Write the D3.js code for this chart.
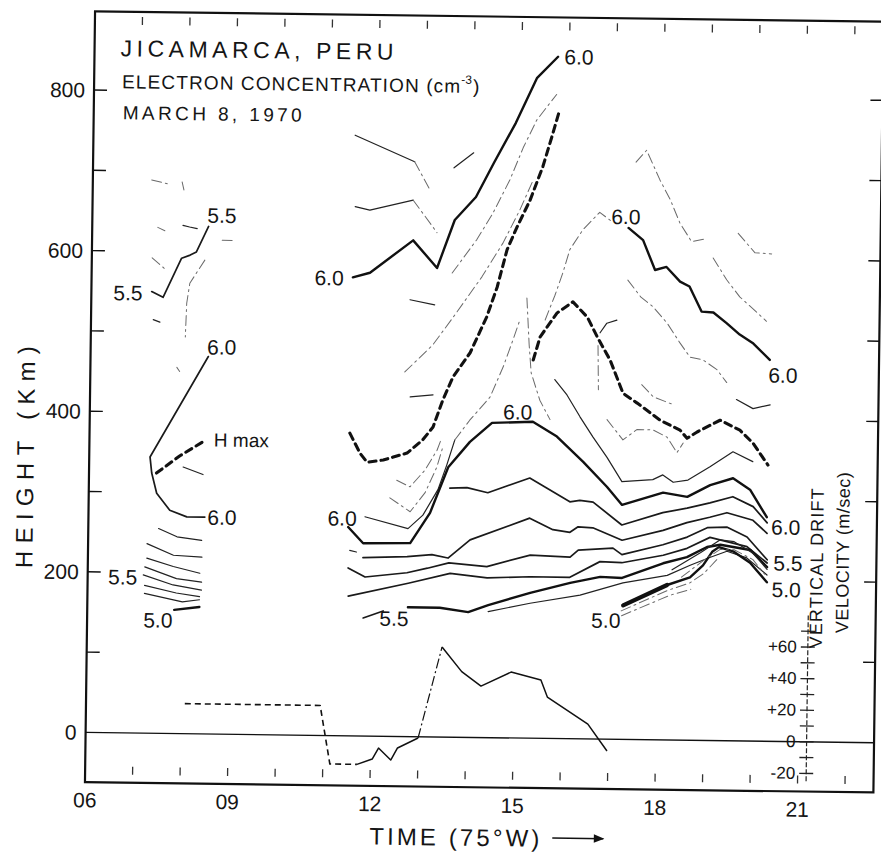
<!DOCTYPE html>
<html lang="en">
<head>
<meta charset="UTF-8">
<title>Jicamarca, Peru - electron concentration, March 8, 1970</title>
<script src="https://d3js.org/d3.v7.min.js"></script>
<style>
  body { margin: 0; background: #fff; }
  svg { display: block; background: #fff; }
  text { font-family: 'Liberation Sans', 'DejaVu Sans', sans-serif; fill: #151515; }
</style>
</head>
<body>
<svg id="chart" width="881" height="852"></svg>
<script>
// axes
const timeTicks = [6, 9, 12, 15, 18, 21];
const timeTickLabels = ["06", "09", "12", "15", "18", "21"];
const hourTicks = [7, 8, 9, 10, 11, 12, 13, 14, 15, 16, 17, 18, 19, 20, 21, 22];
const heightTicks = [0, 200, 400, 600, 800];
const heightMinorTicks = [100, 200, 300, 400, 500, 600, 700, 800];
const velTicks = [-20, 0, 20, 40, 60];
const velTickLabels = ["-20", "0", "+20", "+40", "+60"];
const velMinorTicks = [-20, -10, 0, 10, 20, 30, 40, 50, 60, 70];

// contours, [time (h, 75°W), height (km)] -- morning group
const am55Upper = [[7.27, 550], [7.51, 543], [7.89, 592], [8.07, 596], [8.2, 600], [8.45, 632]];
const am60 = [[8.48, 470], [7.28, 344], [7.32, 324], [7.43, 299], [7.71, 278], [8.07, 270], [8.45, 270]];
const amHmax = [[7.42, 324], [7.91, 346], [8.45, 366]];
const amCurl = [[7.98, 332], [8.4, 323]];
const amLow1 = [[7.48, 255], [7.87, 245], [8.39, 241]];
const amLow2 = [[7.24, 236], [7.8, 222], [8.4, 220]];
const amLow3 = [[7.24, 218], [7.8, 208], [8.36, 200]];
const amLow4 = [[7.2, 207], [7.87, 193], [8.4, 189]];
const amLow5 = [[7.17, 197], [7.8, 185], [8.4, 179]];
const amLow6 = [[7.2, 184], [7.87, 175], [8.36, 171]];
const amLow7 = [[7.2, 174], [8.0, 164], [8.36, 167]];
const am50 = [[7.83, 154], [8.36, 158]];
const amFrag1 = [[7.24, 689], [7.61, 684]];
const amFrag2 = [[7.88, 687], [7.92, 677]];
const amFrag3 = [[7.91, 633], [8.05, 631], [8.21, 629]];
const amFrag4 = [[7.38, 630], [7.53, 626]];
const amFrag5 = [[7.27, 592], [7.55, 578]];
const amFrag6 = [[8.38, 590], [8.07, 561], [8.01, 536], [7.99, 494]];
const amFrag7 = [[7.31, 515], [7.45, 512]];
const amFrag8 = [[8.74, 615], [8.95, 615]];
const amFrag9 = [[7.82, 456], [7.88, 451]];

// afternoon group
const pm60Upper = [[11.5, 571], [11.86, 577], [12.76, 618], [13.27, 584], [13.63, 644], [14.07, 673],
  [14.44, 716], [14.89, 766], [15.32, 822], [15.76, 849]];
const pmTop1 = [[11.51, 748], [12.77, 716]];
const pmTop1Link = [[12.77, 716], [13.1, 681]];
const pmTop1End = [[13.6, 709], [14.01, 728]];
const pmTop2 = [[11.53, 659], [11.84, 655], [12.75, 668]];
const pmTop2Link = [[12.75, 668], [13.26, 628]];
const pmFaintA = [[13.59, 578], [14.1, 620], [14.43, 653], [14.78, 695], [15.05, 735], [15.33, 770], [15.74, 802]];
const pmFaintB = [[12.62, 454], [13.2, 488], [13.66, 526], [14.22, 574], [14.65, 616], [15.0, 658], [15.27, 695]];
const pmFaintC = [[15.17, 548], [15.23, 490], [15.28, 455], [15.47, 421], [15.69, 397]];
const pmHmax = [[11.48, 377], [11.7, 352], [11.85, 341], [12.19, 344], [12.69, 353], [13.02, 370], [13.23, 386],
  [13.43, 420], [13.64, 449], [13.99, 479], [14.33, 524], [14.54, 561], [14.74, 608], [14.94, 636],
  [15.21, 670], [15.47, 712], [15.65, 749], [15.79, 779]];
const pmHmax2 = [[15.32, 471], [15.46, 500], [15.81, 530], [16.14, 544], [16.45, 525], [16.66, 501],
  [16.94, 472], [17.22, 431], [17.52, 419], [18.01, 398], [18.43, 386], [18.58, 376], [18.79, 384],
  [19.27, 399], [19.69, 387], [19.97, 371], [20.29, 344]];
const pmFan1 = [[11.82, 273], [12.73, 259], [13.04, 276], [13.35, 308], [13.53, 339], [13.69, 370]];
const pmFan1Up = [[13.69, 370], [14.0, 395], [14.42, 424], [14.69, 462], [14.89, 496], [15.03, 521]];
const pmFan2 = [[12.48, 319], [12.76, 311], [13.07, 332], [13.32, 357], [13.4, 370]];
const pmFan3 = [[12.34, 297], [12.77, 280], [13.08, 304], [13.32, 336], [13.44, 361]];
const pmShort1 = [[12.74, 423], [13.22, 426]];
const pmShort2 = [[12.71, 544], [13.23, 538]];
const pm60Right = [[17.29, 637], [17.6, 622], [17.86, 585], [18.1, 589], [18.39, 571], [18.59, 565],
  [18.85, 534], [19.1, 533], [19.38, 520], [19.66, 506], [19.95, 495], [20.3, 475]];
const pmPeak = [[17.43, 719], [17.65, 734], [17.94, 697], [18.16, 673], [18.37, 644], [18.62, 621], [18.87, 624]];
const pmR3 = [[19.6, 632], [19.96, 608], [20.31, 607]];
const pmR4 = [[19.08, 601], [19.37, 574], [19.65, 553], [20.22, 523]];
const pmR5a = [[15.56, 521], [15.76, 552], [15.92, 580], [16.06, 609], [16.33, 634], [16.68, 656], [16.95, 644]];
const pmR5b = [[17.29, 572], [17.57, 551], [17.83, 539], [18.13, 519], [18.4, 495], [18.62, 477],
  [18.89, 474], [19.19, 462], [19.4, 446]];
const pmR6 = [[19.61, 425], [19.96, 414], [20.32, 419]];
const pmR7 = [[17.61, 442], [17.86, 427], [18.31, 417]];
const pmCurl = [[16.72, 506], [16.86, 518], [17.07, 522]];
const pmR9 = [[16.68, 490], [16.7, 435]];
const pmR10 = [[16.89, 398], [17.23, 373], [17.52, 386], [17.86, 386], [18.16, 377], [18.37, 358], [18.5, 370]];
const pmR11 = [[15.78, 447], [16.04, 428], [16.32, 401], [16.6, 376], [16.9, 351], [17.22, 321], [17.87, 324],
  [18.08, 330], [18.3, 321], [18.61, 324], [19.07, 341], [19.55, 360], [19.97, 348]];
const pm60Lower = [[11.47, 260], [11.79, 240], [12.78, 241], [13.19, 279], [13.56, 336], [14.01, 368],
  [14.47, 392], [15.33, 394], [15.84, 376], [16.4, 345], [16.91, 314], [17.23, 292], [18.09, 308],
  [18.6, 303], [19.08, 318], [19.56, 327], [19.92, 313], [20.28, 279]];
const pmB1 = [[13.6, 310], [13.96, 311], [14.4, 305], [15.28, 324], [16.13, 295], [16.34, 297], [16.62, 295],
  [17.23, 267], [18.09, 283], [18.6, 289], [19.08, 296], [19.56, 304], [19.99, 292], [20.29, 272]];
const pmB2Dash = [[11.51, 231], [11.65, 229]];
const pmB2 = [[11.79, 222], [12.72, 224], [13.24, 227], [13.58, 223], [14.04, 246], [15.29, 274], [15.78, 260],
  [16.14, 257], [16.31, 264], [16.62, 263], [17.24, 248], [18.1, 261], [18.6, 271], [19.08, 278],
  [19.44, 284], [19.99, 275], [20.29, 259]];
const pmB3 = [[11.48, 209], [11.84, 198], [12.72, 204], [13.15, 210], [13.6, 217], [14.4, 213], [15.31, 228],
  [16.15, 226], [16.32, 235], [17.05, 238], [17.24, 230], [18.1, 243], [18.61, 253], [19.03, 265],
  [19.45, 266], [19.87, 254], [20.3, 226]];
const pmB4 = [[11.49, 174], [12.75, 191], [13.63, 204], [14.41, 199], [15.31, 201], [16.15, 201], [16.78, 221],
  [17.24, 220], [18.11, 230], [18.61, 239], [19.09, 253], [19.87, 242], [20.3, 222]];
const pm55Slash = [[11.81, 147], [12.23, 156]];
const pm55 = [[12.75, 161], [13.42, 161], [14.02, 156], [14.44, 165], [15.32, 181], [16.16, 194], [16.79, 202],
  [17.25, 201], [18.11, 220], [18.61, 228], [19.03, 241], [19.31, 244], [19.94, 238], [20.3, 217]];
const pmB6 = [[14.44, 157], [15.32, 168], [16.37, 179], [17.27, 195], [18.2, 205], [18.68, 218], [19.09, 228],
  [19.45, 236], [19.87, 228], [20.3, 207]];
const pm50 = [[17.28, 167], [18.2, 193], [18.68, 203], [18.95, 218], [19.14, 235], [19.28, 241], [19.58, 236],
  [19.94, 222], [20.3, 198]];
const pm50Bold = [[17.28, 167], [18.2, 193]];
const pm50Thin1 = [[17.24, 160], [18.2, 186], [18.68, 196], [18.97, 208], [19.25, 226]];
const pm50Thin2 = [[17.25, 154], [18.25, 180], [18.7, 188]];
const pmHatch1 = [[18.3, 212], [18.9, 234], [19.3, 250], [19.6, 248], [20.0, 234], [20.3, 214]];
const pmHatch2 = [[18.5, 203], [19.0, 226], [19.3, 238], [19.6, 238], [20.0, 226], [20.25, 208]];

// vertical drift velocity, [time, m/sec]
const velDashed = [[8.08, 19], [10.93, 19], [11.15, -18], [11.72, -18]];
const velSolid1 = [[11.72, -18], [12.04, -14.5], [12.17, -7.5], [12.43, -15], [12.57, -7.3], [13.0, -0.8]];
const velRise = [[13.0, -0.8], [13.48, 57]];
const velSolid2 = [[13.48, 57], [13.9, 41.6], [14.31, 32.6], [14.94, 41.7], [15.57, 36.9], [15.71, 26.2],
  [16.57, 9.4], [16.98, -7.5]];

// contour labels: [text, time, height]
const contourLabels = [
  ["5.5", 8.73, 646], ["5.5", 6.77, 548], ["6.0", 8.76, 482], ["6.0", 8.81, 270], ["5.5", 6.74, 194],
  ["5.0", 7.49, 141], ["6.0", 11.0, 570], ["6.0", 16.2, 849], ["6.0", 15.01, 406], ["6.0", 11.34, 271],
  ["5.5", 12.46, 147], ["5.0", 16.92, 148], ["6.0", 17.23, 651], ["6.0", 20.58, 456], ["6.0", 20.68, 267],
  ["5.5", 20.74, 222], ["5.0", 20.71, 189]
];
const hmaxLabel = ["H max", 8.62, 366];

const styles = {
  thick:  { w: 2.4, dash: null, color: "#111" },
  medium: { w: 1.7, dash: null, color: "#1a1a1a" },
  thin:   { w: 1.2, dash: null, color: "#222" },
  faint:  { w: 1.0, dash: "10,4,2,4", color: "#6a6a6a" },
  hmax:   { w: 3.1, dash: "7,5", color: "#111" },
  bold:   { w: 4.2, dash: null, color: "#111" }
};

const contours = [
  [am55Upper, "medium"], [am60, "medium"], [amHmax, "hmax"], [amCurl, "thin"],
  [amLow1, "thin"], [amLow2, "thin"], [amLow3, "thin"], [amLow4, "thin"], [amLow5, "thin"],
  [amLow6, "thin"], [amLow7, "thin"], [am50, "thick"],
  [amFrag1, "faint"], [amFrag2, "faint"], [amFrag3, "thin"], [amFrag4, "faint"], [amFrag5, "faint"],
  [amFrag6, "faint"], [amFrag7, "thin"], [amFrag8, "faint"], [amFrag9, "faint"],
  [pm60Upper, "thick"], [pmTop1, "thin"], [pmTop1Link, "faint"], [pmTop1End, "thin"],
  [pmTop2, "thin"], [pmTop2Link, "faint"], [pmFaintA, "faint"], [pmFaintB, "faint"], [pmFaintC, "faint"],
  [pmHmax, "hmax"], [pmHmax2, "hmax"],
  [pmFan1, "thin"], [pmFan1Up, "faint"], [pmFan2, "faint"], [pmFan3, "faint"],
  [pmShort1, "thin"], [pmShort2, "thin"],
  [pm60Right, "thick"], [pmPeak, "faint"], [pmR3, "faint"], [pmR4, "faint"], [pmR5a, "faint"],
  [pmR5b, "faint"], [pmR6, "thin"], [pmR7, "faint"], [pmCurl, "thin"], [pmR9, "faint"],
  [pmR10, "faint"], [pmR11, "thin"],
  [pm60Lower, "thick"], [pmB1, "medium"], [pmB2Dash, "thin"], [pmB2, "medium"], [pmB3, "medium"],
  [pmB4, "medium"], [pm55Slash, "medium"], [pm55, "thick"], [pmB6, "thin"], [pm50, "thick"],
  [pm50Bold, "bold"], [pm50Thin1, "faint"], [pm50Thin2, "faint"], [pmHatch1, "thin"], [pmHatch2, "faint"]
];

const svg = d3.select("#chart");
// the original scan sits slightly skewed on the page
const g = svg.append("g").attr("transform", "rotate(0.75,480,400)");

const x = d3.scaleLinear().domain([6, 22.6]).range([90, 878.5]);
const y = d3.scaleLinear().domain([-62, 898]).range([787.3, 16.4]);
const vy = d3.scaleLinear().domain([0, 60]).range([y(0), y(118)]);
const velAxisTime = 21.18;

const frameLeft = x(6), frameRight = x(22.6), frameTop = y(898), frameBottom = y(-62);

// frame
g.append("rect")
  .attr("x", frameLeft).attr("y", frameTop)
  .attr("width", frameRight - frameLeft).attr("height", frameBottom - frameTop)
  .attr("fill", "none").attr("stroke", "#111").attr("stroke-width", 2.2);

// zero line
g.append("line")
  .attr("x1", frameLeft).attr("x2", frameRight)
  .attr("y1", y(0)).attr("y2", y(0))
  .attr("stroke", "#111").attr("stroke-width", 1.4);

// hour ticks inside top and bottom edges
g.selectAll(".ttop").data(hourTicks).enter().append("line")
  .attr("x1", d => x(d)).attr("x2", d => x(d))
  .attr("y1", frameTop + 5).attr("y2", frameTop + 13)
  .attr("stroke", "#333").attr("stroke-width", 1.3);
g.selectAll(".tbot").data(hourTicks).enter().append("line")
  .attr("x1", d => x(d)).attr("x2", d => x(d))
  .attr("y1", frameBottom - 16).attr("y2", frameBottom - 8)
  .attr("stroke", "#333").attr("stroke-width", 1.3);

// height ticks on both sides
g.selectAll(".hl").data(heightMinorTicks).enter().append("line")
  .attr("x1", frameLeft).attr("x2", frameLeft + 13)
  .attr("y1", d => y(d)).attr("y2", d => y(d))
  .attr("stroke", "#111").attr("stroke-width", 1.4);
g.selectAll(".hr").data(heightMinorTicks).enter().append("line")
  .attr("x1", frameRight - 12).attr("x2", frameRight)
  .attr("y1", d => y(d)).attr("y2", d => y(d))
  .attr("stroke", "#111").attr("stroke-width", 1.4);

g.selectAll(".hlab").data(heightTicks).enter().append("text")
  .attr("x", frameLeft - 9).attr("y", d => y(d))
  .attr("text-anchor", "end").attr("dominant-baseline", "central")
  .style("font-size", "21px")
  .text(d => d);

g.selectAll(".tlab").data(timeTicks).enter().append("text")
  .attr("x", d => x(d)).attr("y", 805)
  .attr("text-anchor", "middle").attr("dominant-baseline", "central")
  .style("font-size", "21px")
  .text((d, i) => timeTickLabels[i]);

// contour lines
const line = d3.line().x(d => x(d[0])).y(d => y(d[1]));
contours.forEach(([pts, key]) => {
  const s = styles[key];
  g.append("path")
    .attr("d", line(pts))
    .attr("fill", "none")
    .attr("stroke", s.color)
    .attr("stroke-width", s.w)
    .attr("stroke-dasharray", s.dash)
    .attr("stroke-linejoin", "round")
    .attr("stroke-linecap", "round");
});

g.selectAll(".clab").data(contourLabels).enter().append("text")
  .attr("x", d => x(d[1])).attr("y", d => y(d[2]))
  .attr("text-anchor", "middle").attr("dominant-baseline", "central")
  .style("font-size", "21px")
  .text(d => d[0]);

g.append("text")
  .attr("x", x(hmaxLabel[1])).attr("y", y(hmaxLabel[2]))
  .attr("dominant-baseline", "central")
  .style("font-size", "19px")
  .text(hmaxLabel[0]);

// drift velocity
const vline = d3.line().x(d => x(d[0])).y(d => vy(d[1]));
[[velDashed, "6,4", 1.6], [velSolid1, null, 1.5], [velRise, "10,3,2,3", 1.2], [velSolid2, null, 1.5]]
  .forEach(([pts, dash, w]) => {
    g.append("path")
      .attr("d", vline(pts))
      .attr("fill", "none")
      .attr("stroke", "#111")
      .attr("stroke-width", w)
      .attr("stroke-dasharray", dash)
      .attr("stroke-linejoin", "round");
  });

// velocity axis
const vx = x(velAxisTime);
g.append("line")
  .attr("x1", vx).attr("x2", vx)
  .attr("y1", vy(-25)).attr("y2", vy(80))
  .attr("stroke", "#222").attr("stroke-width", 1.2)
  .attr("stroke-dasharray", "5,2");
g.selectAll(".vt").data(velMinorTicks).enter().append("line")
  .attr("x1", vx - 7).attr("x2", vx + 7)
  .attr("y1", d => vy(d)).attr("y2", d => vy(d))
  .attr("stroke", "#222").attr("stroke-width", 1.3);
g.selectAll(".vlab").data(velTicks).enter().append("text")
  .attr("x", vx - 11).attr("y", d => vy(d))
  .attr("text-anchor", "end").attr("dominant-baseline", "central")
  .style("font-size", "17px")
  .text((d, i) => velTickLabels[i]);

g.append("text")
  .attr("transform", "translate(819,564) rotate(-90)")
  .attr("text-anchor", "middle").attr("dominant-baseline", "central")
  .attr("textLength", 160).attr("lengthAdjust", "spacing")
  .style("font-size", "18px")
  .text("VERTICAL DRIFT");
g.append("text")
  .attr("transform", "translate(845,548) rotate(-90)")
  .attr("text-anchor", "middle").attr("dominant-baseline", "central")
  .attr("textLength", 161).attr("lengthAdjust", "spacing")
  .style("font-size", "18px")
  .text("VELOCITY (m/sec)");

// titles
g.append("text")
  .attr("x", 116).attr("y", 61)
  .attr("textLength", 273).attr("lengthAdjust", "spacing")
  .style("font-size", "23px")
  .text("JICAMARCA, PERU");
g.append("text")
  .attr("x", 118).attr("y", 93)
  .attr("textLength", 338).attr("lengthAdjust", "spacing")
  .style("font-size", "19px")
  .text("ELECTRON CONCENTRATION (cm");
g.append("text")
  .attr("x", 457).attr("y", 84)
  .style("font-size", "12px")
  .text("-3");
g.append("text")
  .attr("x", 469).attr("y", 93)
  .style("font-size", "19px")
  .text(")");
g.append("text")
  .attr("x", 119).attr("y", 124)
  .attr("textLength", 179).attr("lengthAdjust", "spacing")
  .style("font-size", "19px")
  .text("MARCH 8, 1970");

// axis titles
g.append("text")
  .attr("transform", "translate(26,463) rotate(-90)")
  .attr("text-anchor", "middle").attr("dominant-baseline", "central")
  .attr("textLength", 222).attr("lengthAdjust", "spacing")
  .style("font-size", "24px")
  .text("HEIGHT (Km)");
g.append("text")
  .attr("x", 375).attr("y", 846)
  .attr("textLength", 170).attr("lengthAdjust", "spacing")
  .style("font-size", "24px")
  .text("TIME (75°W)");

svg.append("defs").append("marker")
  .attr("id", "arrow").attr("viewBox", "0 0 10 10")
  .attr("refX", 9).attr("refY", 5)
  .attr("markerWidth", 9).attr("markerHeight", 7)
  .attr("orient", "auto")
  .append("path").attr("d", "M0,1 L10,5 L0,9 Z").attr("fill", "#111");
g.append("line")
  .attr("x1", 558).attr("x2", 609)
  .attr("y1", 837).attr("y2", 837)
  .attr("stroke", "#111").attr("stroke-width", 1.5)
  .attr("marker-end", "url(#arrow)");
</script>
</body>
</html>
